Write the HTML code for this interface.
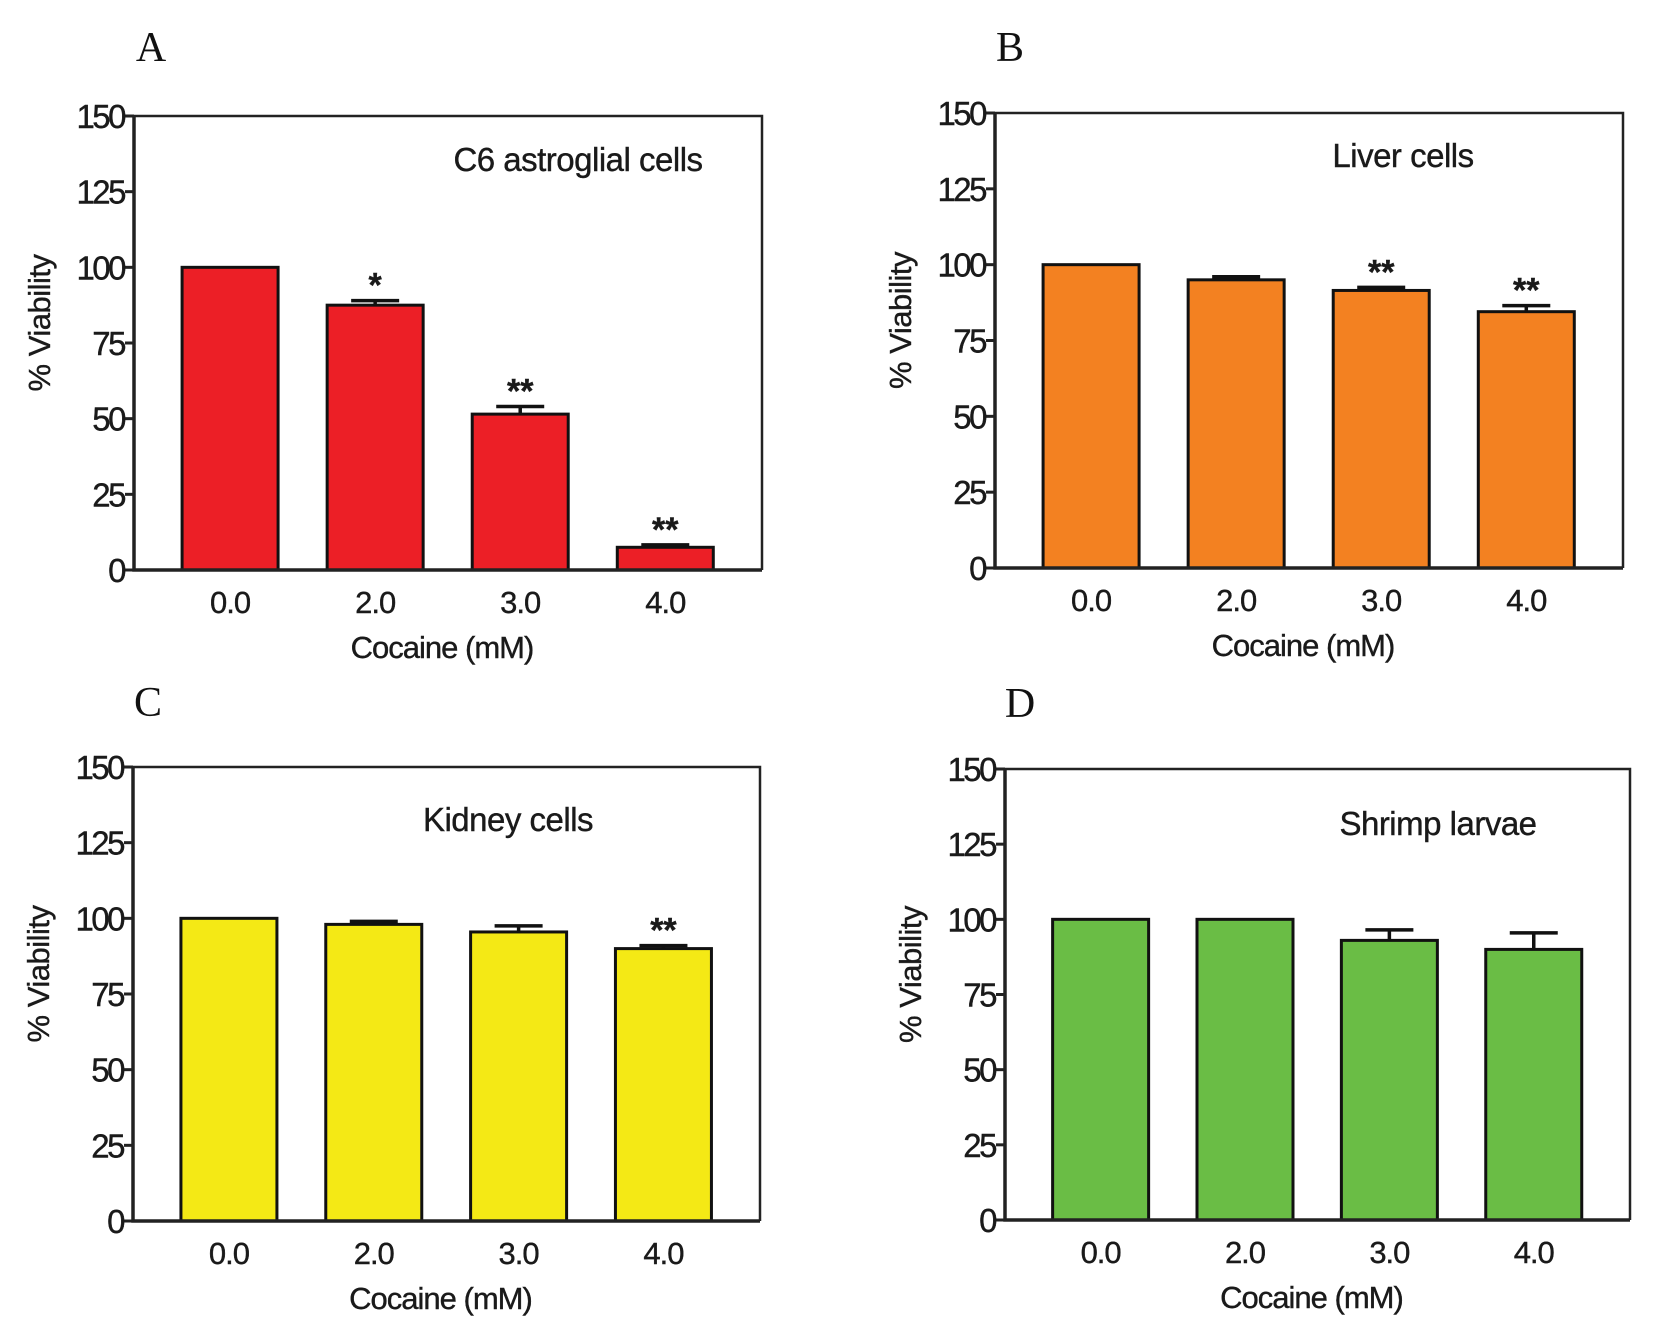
<!DOCTYPE html>
<html><head><meta charset="utf-8"><style>
html,body{margin:0;padding:0;background:#fff;}
svg{display:block;}
text{font-family:"Liberation Sans",Arial,sans-serif;fill:#1a1a1a;stroke:#1a1a1a;stroke-width:0.4;}
.letter{font-family:"Liberation Serif",serif;font-size:42px;fill:#111;stroke:none;}
</style></head><body>
<svg id="fig" width="1654" height="1337" viewBox="0 0 1654 1337" xmlns="http://www.w3.org/2000/svg"></svg>
<script>
const categories = ["0.0","2.0","3.0","4.0"];
const yTicks = [0,25,50,75,100,125,150];
const valuesA = [100, 87.5, 51.5, 7.5];
const errorsA = [0, 1.5, 2.5, 0.8];
const starsA = ["", "*", "**", "**"];
const valuesB = [100, 95, 91.5, 84.5];
const errorsB = [0, 1, 1, 2];
const starsB = ["", "", "**", "**"];
const valuesC = [100, 98, 95.5, 90];
const errorsC = [0, 1, 2, 1];
const starsC = ["", "", "", "**"];
const valuesD = [100, 100, 93, 90];
const errorsD = [0, 0, 3.5, 5.5];
const starsD = ["", "", "", ""];

const NS = "http://www.w3.org/2000/svg";
const svg = document.getElementById('fig');
function mk(tag, attrs, parent, txt){
  const e = document.createElementNS(NS, tag);
  for (const k in attrs) e.setAttribute(k, attrs[k]);
  if (txt !== undefined) e.textContent = txt;
  (parent || svg).appendChild(e);
  return e;
}
function panel(id, letter, lx, ly, L, T, R, B, title, tx, ty, vals, errs, stars, color){
  const g = mk('g', {});
  
  
  const W = R - L;
  const y = v => B - (v / 150) * (B - T);
  const xc = i => L + 0.153 * W + i * 0.231 * W;
  const bw = 96;
  const lt = mk('text', {x: lx, y: ly + 14, 'text-anchor': 'middle', class: 'letter'}, g, letter);
  
  
  const fr = mk('path', {d: `M${L},${T} H${R} V${B}`, fill: 'none', stroke: '#222', 'stroke-width': 2.5}, g);
  
  
  vals.forEach((v, i) => {
    const r = mk('rect', {x: xc(i) - bw/2, y: y(v), width: bw, height: B - y(v), fill: color, stroke: '#111', 'stroke-width': 3}, g);
    
    
    if (errs[i] > 0) {
      const e = mk('path', {d: `M${xc(i)},${y(v)} V${y(v + errs[i])} M${xc(i) - 24},${y(v + errs[i])} H${xc(i) + 24}`, stroke: '#111', 'stroke-width': 3.5, fill: 'none'}, g);
      
      
    }
    if (stars[i]) {
      const s = mk('text', {x: xc(i), y: y(v + errs[i]) - 4, 'text-anchor': 'middle', 'font-size': 34, 'font-weight': 'bold'}, g, stars[i]);
      
      
    }
    const xl = mk('text', {x: xc(i), y: B + 43, 'text-anchor': 'middle', 'font-size': 31, 'letter-spacing': '-1'}, g, categories[i]);
    
    
  });
  const ax = mk('path', {d: `M${L},${T} V${B} H${R}`, fill: 'none', stroke: '#222', 'stroke-width': 3.5}, g);
  
  
  yTicks.forEach(t => {
    const tk = mk('line', {x1: L - 9, x2: L, y1: y(t), y2: y(t), stroke: '#222', 'stroke-width': 3}, g);
    
    
    const tl = mk('text', {x: L - 10, y: y(t) + 12, 'text-anchor': 'end', 'font-size': 33, 'letter-spacing': '-2.5'}, g, String(t));
    
    
  });
  const xt = mk('text', {x: L + W * 0.5 - 6, y: B + 88, 'text-anchor': 'middle', 'font-size': 31, 'letter-spacing': '-1'}, g, 'Cocaine (mM)');
  
  
  const yc = (T + B) / 2 - 20;
  const yt = mk('text', {x: 0, y: 0, 'text-anchor': 'middle', 'font-size': 31, 'letter-spacing': '-0.5', transform: `translate(${L - 84},${yc}) rotate(-90)`}, g, '% Viability');
  
  
  const tt = mk('text', {x: tx, y: ty + 11, 'text-anchor': 'middle', 'font-size': 33, 'letter-spacing': '-0.5'}, g, title);
  
  
}
panel('a', 'A', 151, 47, 134, 116, 762, 570, 'C6 astroglial cells', 578, 160, valuesA, errorsA, starsA, '#ec1f26');
panel('b', 'B', 1010, 47, 995, 113, 1623, 568, 'Liver cells', 1403, 156, valuesB, errorsB, starsB, '#f38121');
panel('c', 'C', 148, 702, 133, 767, 760, 1221, 'Kidney cells', 508, 820, valuesC, errorsC, starsC, '#f4e915');
panel('d', 'D', 1020, 703, 1005, 769, 1630, 1220, 'Shrimp larvae', 1438, 824, valuesD, errorsD, starsD, '#6abd45');
</script>
</body></html>
